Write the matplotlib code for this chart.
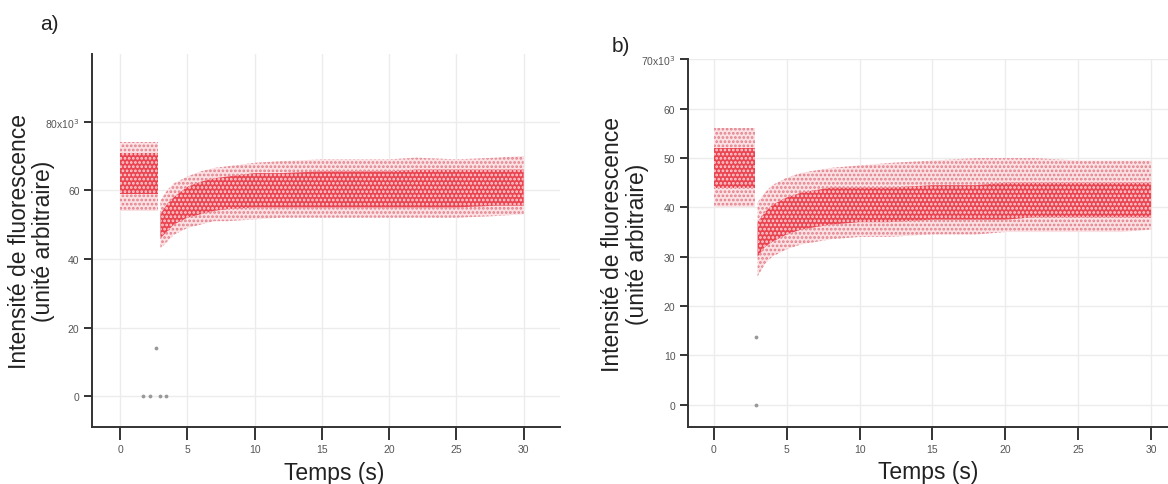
import matplotlib
matplotlib.use("Agg")
import matplotlib.pyplot as plt
from matplotlib.ticker import FuncFormatter

plt.rcParams['font.family'] = ['Liberation Sans', 'DejaVu Sans']
plt.rcParams['hatch.linewidth'] = 1.3

# --- panel a: fluorescence cloud read as envelopes (x10^3 a.u.) ---
a_pre_t = [0.0, 2.85]
a_pre_core_lo = [59, 59]
a_pre_core_hi = [71, 71]
a_pre_out_lo = [54, 54]
a_pre_out_hi = [74, 74]

a_t = [3.0, 3.5, 4, 5, 6, 7, 8, 10, 12, 15, 18, 20, 22, 25, 28, 30]
a_core_lo = [46, 48, 50, 52, 53, 54, 54.5, 55, 55, 55, 55, 55, 55, 55, 55.5, 55.5]
a_core_hi = [53, 56, 58, 61, 62.5, 63.5, 64, 65, 65, 65.5, 65.5, 65.5, 66, 66, 66, 66]
a_out_lo = [43, 45, 47, 49, 50, 51, 51, 51.5, 52, 52, 52, 52, 52, 52, 52.5, 53]
a_out_hi = [57, 60, 62, 64, 65.5, 66.5, 67, 68, 68.5, 69, 69, 69, 69.5, 69, 69.5, 70]

a_stray_t = [1.7, 2.2, 3.0, 3.4, 2.7]
a_stray_y = [0, 0, 0, 0, 14]

# --- panel b ---
b_pre_t = [0.0, 2.85]
b_pre_core_lo = [44, 44]
b_pre_core_hi = [52, 52]
b_pre_out_lo = [40, 40]
b_pre_out_hi = [56, 56]

b_t = [3.0, 3.5, 4, 5, 6, 7, 8, 10, 12, 15, 18, 20, 22, 25, 28, 30]
b_core_lo = [30, 32, 33, 34.5, 35.5, 36, 36.5, 37, 37, 37.5, 37.5, 37.5, 38, 38, 38, 38]
b_core_hi = [37, 39, 40.5, 42, 43, 43.5, 44, 44, 44, 44.5, 44.5, 45, 45, 45, 45, 45]
b_out_lo = [26, 28.5, 30, 31.5, 32.5, 33, 33.5, 34, 34, 34.5, 34.5, 35, 35, 35, 35, 35.5]
b_out_hi = [41, 43, 44.5, 46, 47, 47.5, 48, 48.5, 49, 49.5, 50, 50, 50, 49.5, 49.5, 49.5]

b_stray_t = [2.9, 2.9]
b_stray_y = [0, 13.8]

x_ticks = [0, 5, 10, 15, 20, 25, 30]


def draw_band(ax, t, out_lo, out_hi, core_lo, core_hi):
    # sparse outer points then dense red core, speckled with hatch
    ax.fill_between(t, out_lo, out_hi, facecolor="#fbe1e4", edgecolor="#e27f89",
                    hatch="....", linewidth=0, zorder=2)
    ax.fill_between(t, core_lo, core_hi, facecolor="#ea4451", edgecolor="#fcd2d6",
                    hatch="....", linewidth=0, zorder=3)


def style(ax, yticks, ylim, xlim, top_label, xlab_x, ylab_x):
    for s in ("top", "right"):
        ax.spines[s].set_visible(False)
    for s in ("left", "bottom"):
        ax.spines[s].set_linewidth(1.4)
        ax.spines[s].set_color("#333333")
    ax.set_xlim(*xlim)
    ax.set_ylim(*ylim)
    ax.set_xticks(x_ticks)
    ax.set_yticks(yticks)
    top = yticks[-1]
    ax.yaxis.set_major_formatter(FuncFormatter(
        lambda v, p: top_label if v == top else f"{v:g}"))
    ax.tick_params(direction="out", width=1.4, color="#333333",
                   labelsize=7.5, labelcolor="#555555")
    ax.tick_params(axis="x", length=9, pad=3)
    ax.tick_params(axis="y", length=6, pad=3)
    ax.grid(True, color="#ececec", linewidth=1)
    ax.set_axisbelow(True)
    ax.set_xlabel("Temps (s)", fontsize=16.5, color="#222222")
    ax.xaxis.set_label_coords(xlab_x, -0.09)
    ax.xaxis.label.set_va("top")
    # two-line y label, one text per line
    ax.text(ylab_x, 0.5, "Intensité de fluorescence", transform=ax.transAxes,
            rotation=90, ha="center", va="center", fontsize=16.5, color="#222222")
    ax.text(ylab_x + 0.052, 0.5, "(unité arbitraire)", transform=ax.transAxes,
            rotation=90, ha="center", va="center", fontsize=16.5, color="#222222")


fig = plt.figure(figsize=(11.68, 4.85), dpi=100)
ax1 = fig.add_axes([0.0788, 0.1175, 0.4007, 0.769])
ax2 = fig.add_axes([0.589, 0.1175, 0.411, 0.7588])

draw_band(ax1, a_pre_t, a_pre_out_lo, a_pre_out_hi, a_pre_core_lo, a_pre_core_hi)
draw_band(ax1, a_t, a_out_lo, a_out_hi, a_core_lo, a_core_hi)
ax1.scatter(a_stray_t, a_stray_y, s=3, color="#999999", zorder=3)
style(ax1, [0, 20, 40, 60, 80], (-9, 99.7), (-2.08, 32.7), r"80x10$^3$", 0.517, -0.155)

draw_band(ax2, b_pre_t, b_pre_out_lo, b_pre_out_hi, b_pre_core_lo, b_pre_core_hi)
draw_band(ax2, b_t, b_out_lo, b_out_hi, b_core_lo, b_core_hi)
ax2.scatter(b_stray_t, b_stray_y, s=3, color="#999999", zorder=3)
style(ax2, [0, 10, 20, 30, 40, 50, 60, 70], (-4.56, 70.1), (-1.78, 31.16), r"70x10$^3$", 0.5, -0.158)

fig.text(0.034, 0.95, "a)", fontsize=15, ha="left", va="center", color="#222222")
fig.text(0.524, 0.905, "b)", fontsize=15, ha="left", va="center", color="#222222")

fig.savefig("out.png", dpi=100)
